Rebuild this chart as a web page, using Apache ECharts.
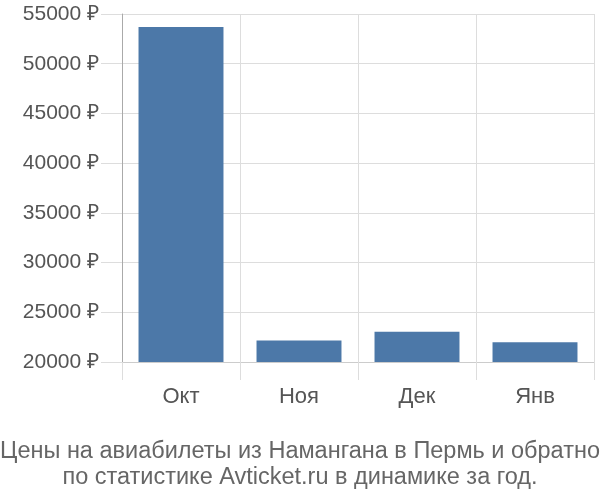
<!DOCTYPE html>
<html>
<head>
<meta charset="utf-8">
<script src="https://cdn.jsdelivr.net/npm/echarts@6/dist/echarts.min.js"></script>
<style>
  html, body { margin: 0; padding: 0; background: #fff; }
  #main { width: 600px; height: 500px; }
</style>
</head>
<body>
<div id="main"></div>
<script>
var months = ["Окт", "Ноя", "Дек", "Янв"];
var prices = [53700, 22150, 23050, 21980];
var titleLines = [
  "Цены на авиабилеты из Намангана в Пермь и обратно",
  "по статистике Avticket.ru в динамике за год."
];

var myChart = echarts.init(document.getElementById("main"));

var option = {
  animation: false,
  title: {
    text: titleLines.join("\n"),
    left: "center",
    top: 434,
    textStyle: {
      color: "#666",
      fontSize: 23.5,
      fontWeight: "normal",
      fontFamily: "Liberation Sans, sans-serif",
      lineHeight: 26
    }
  },
  grid: {
    left: 122,
    right: 6,
    top: 14,
    bottom: 138
  },
  xAxis: {
    type: "category",
    data: months,
    axisLine: { lineStyle: { color: "#ccc" } },
    axisTick: { show: true, length: 18, lineStyle: { color: "#ddd" } },
    splitLine: { show: true, lineStyle: { color: "#ddd" } },
    axisLabel: {
      color: "#555",
      fontSize: 22,
      fontFamily: "Liberation Sans, sans-serif",
      margin: 24
    }
  },
  yAxis: {
    type: "value",
    min: 20000,
    max: 55000,
    interval: 5000,
    axisLine: { show: true, lineStyle: { color: "#aaa" } },
    axisTick: { show: true, length: 21, lineStyle: { color: "#ddd" } },
    splitLine: { show: true, lineStyle: { color: "#ddd" } },
    axisLabel: {
      color: "#555",
      fontSize: 21,
      fontFamily: "Liberation Sans, sans-serif",
      margin: 23,
      formatter: function (v) { return v + " ₽"; }
    }
  },
  series: [
    {
      type: "bar",
      data: prices,
      barWidth: "72%",
      itemStyle: { color: "#4c78a8" }
    }
  ]
};

myChart.setOption(option);
</script>
</body>
</html>
